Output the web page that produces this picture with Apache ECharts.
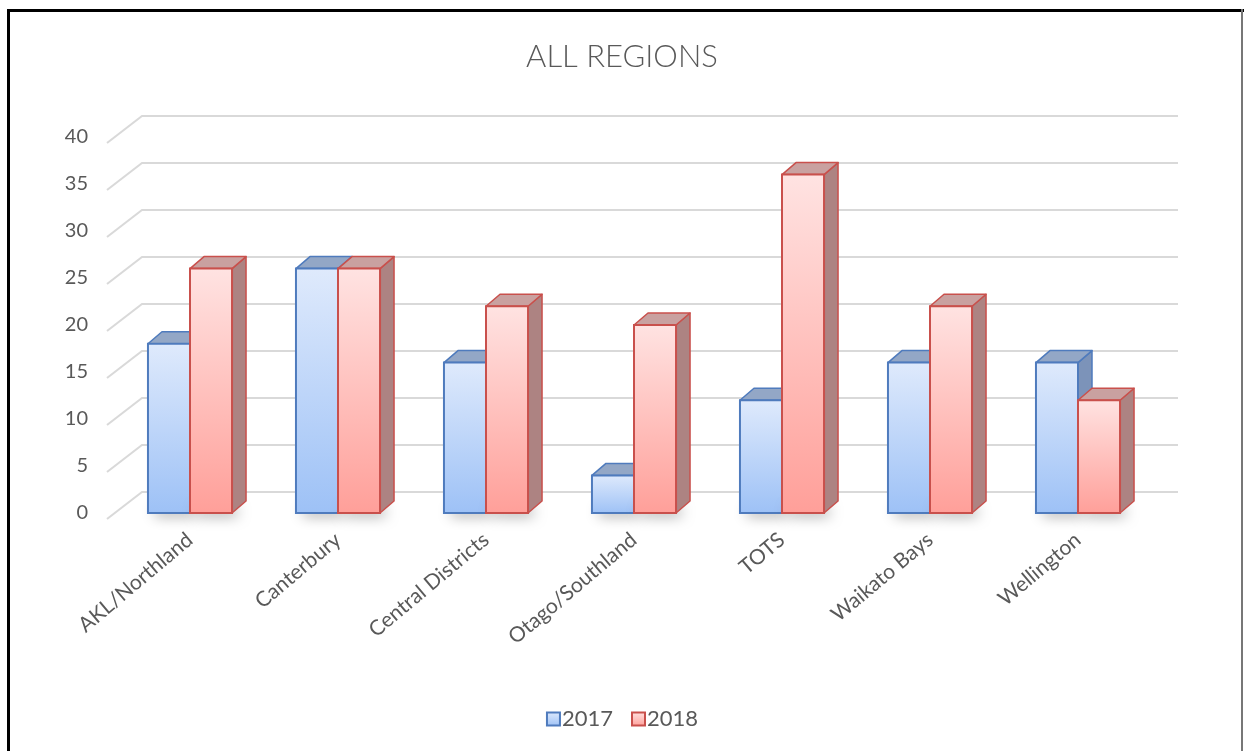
<!DOCTYPE html>
<html>
<head>
<meta charset="utf-8">
<style>
  html, body { margin: 0; padding: 0; background: #ffffff; }
  #frame { position: absolute; left: 7px; top: 9px; width: 1244px; height: 760px;
           border-left: 3px solid #000; border-top: 3px solid #000; box-sizing: border-box; pointer-events: none; z-index: 2; }
  #rline { position: absolute; left: 1241px; top: 9px; width: 2px; height: 742px; background: #777; z-index: 2; }
  #chart { position: absolute; left: 0; top: 0; width: 1244px; height: 751px; }
</style>
<script src="https://cdn.jsdelivr.net/npm/echarts@6/dist/echarts.min.js"></script>
</head>
<body>
<div id="chart"></div>
<div id="frame"></div>
<div id="rline"></div>
<script>
const titleText = 'ALL REGIONS';
const categories = ['AKL/Northland', 'Canterbury', 'Central Districts', 'Otago/Southland', 'TOTS', 'Waikato Bays', 'Wellington'];
const seriesNames = ['2017', '2018'];
const values2017 = [18, 26, 16, 4, 12, 16, 16];
const values2018 = [26, 26, 22, 20, 36, 22, 12];
const yTicks = [0, 5, 10, 15, 20, 25, 30, 35, 40];

const FONT = 'Lato, "Open Sans", sans-serif';
const DEPTH_X = 14, DEPTH_Y = -12;

const palettes = [
  { top: '#dfeafc', bottom: '#9dc1f6', border: '#4f7bbd', cap: '#93a7c6', side: '#7c93b9' },
  { top: '#ffe3e2', bottom: '#ff9f99', border: '#c9504c', cap: '#c9a1a0', side: '#ad8382' }
];

function grad(p) {
  return new echarts.graphic.LinearGradient(0, 0, 0, 1, [
    { offset: 0, color: p.top }, { offset: 1, color: p.bottom }
  ]);
}

function makeBarRender(seriesIdx) {
  const p = palettes[seriesIdx];
  return function (params, api) {
    const catIdx = api.value(0);
    const val = api.value(1);
    const topPt = api.coord([catIdx, val]);
    const basePt = api.coord([catIdx, 0]);
    const band = api.size([1, 0])[0];
    const bw = band * 0.284;
    const x0 = seriesIdx === 0 ? topPt[0] - bw : topPt[0];
    const x1 = x0 + bw;
    const yT = topPt[1], yB = basePt[1];
    const children = [];
    // soft floor shadow (shape hidden behind the front face, only its blurred shadow shows)
    children.push({
      type: 'rect', z2: 0,
      shape: { x: x0 + 3, y: yB - 14, width: bw - 2, height: 6 },
      style: { fill: 'rgba(90,90,90,0.9)', shadowBlur: 14, shadowColor: 'rgba(0,0,0,0.55)', shadowOffsetX: 4, shadowOffsetY: 10 }
    });
    // side face
    children.push({
      type: 'polygon', z2: 1,
      shape: { points: [[x1, yT], [x1 + DEPTH_X, yT + DEPTH_Y], [x1 + DEPTH_X, yB + DEPTH_Y], [x1, yB]] },
      style: { fill: p.side, stroke: p.border, lineWidth: 1.5, lineJoin: 'round' }
    });
    // top face
    children.push({
      type: 'polygon', z2: 2,
      shape: { points: [[x0, yT], [x0 + DEPTH_X, yT + DEPTH_Y], [x1 + DEPTH_X, yT + DEPTH_Y], [x1, yT]] },
      style: { fill: p.cap, stroke: p.border, lineWidth: 1.5, lineJoin: 'round' }
    });
    // front face
    children.push({
      type: 'rect', z2: 3,
      shape: { x: x0, y: yT, width: bw, height: yB - yT },
      style: { fill: grad(p), stroke: p.border, lineWidth: 2 }
    });
    return { type: 'group', children: children };
  };
}

function gridRender(params, api) {
  const v = api.value(0);
  const y = api.coord([0, v])[1];
  const cs = params.coordSys;
  return {
    type: 'polyline',
    shape: { points: [[cs.x - 9, y + 6], [cs.x + 26, y - 21], [cs.x + cs.width + 26, y - 21]] },
    style: { stroke: '#d9d9d9', lineWidth: 2, fill: null }
  };
}

const chart = echarts.init(document.getElementById('chart'), null, { renderer: 'canvas' });
chart.setOption({
  backgroundColor: '#ffffff',
  animation: false,
  title: {
    text: titleText, left: 'center', top: 36,
    textStyle: { fontFamily: FONT, fontSize: 31, fontWeight: 300, color: '#595959' }
  },
  legend: {
    bottom: 16, left: 'center', itemWidth: 13, itemHeight: 13, itemGap: 18,
    textStyle: { fontFamily: FONT, fontSize: 22, color: '#595959', padding: [0, 0, 0, -3] },
    data: seriesNames.map((n, i) => ({
      name: n, icon: 'rect',
      itemStyle: { color: grad(palettes[i]), borderColor: palettes[i].border, borderWidth: 2 }
    }))
  },
  grid: { left: 116, right: 92, top: 137, bottom: 238 },
  xAxis: {
    type: 'category', data: categories,
    axisLine: { show: false }, axisTick: { show: false },
    axisLabel: { interval: 0, rotate: 40, margin: 24, fontFamily: FONT, fontSize: 21, color: '#595959' }
  },
  yAxis: {
    type: 'value', min: 0, max: 40, interval: 5,
    axisLine: { show: false }, axisTick: { show: false }, splitLine: { show: false },
    axisLabel: { margin: 28, padding: [14, 0, 0, 0], fontFamily: FONT, fontSize: 20, color: '#595959' }
  },
  series: [
    {
      type: 'custom', name: 'grid', silent: true, z: 1,
      renderItem: gridRender,
      data: yTicks.map(v => [v]),
      encode: { y: 0 }
    },
    {
      type: 'custom', name: seriesNames[0], z: 2,
      itemStyle: { color: '#9dc1f6' },
      renderItem: makeBarRender(0),
      data: values2017.map((v, i) => [i, v]),
      encode: { x: 0, y: 1 }
    },
    {
      type: 'custom', name: seriesNames[1], z: 3,
      itemStyle: { color: '#ff9f99' },
      renderItem: makeBarRender(1),
      data: values2018.map((v, i) => [i, v]),
      encode: { x: 0, y: 1 }
    }
  ]
});
</script>
</body>
</html>
